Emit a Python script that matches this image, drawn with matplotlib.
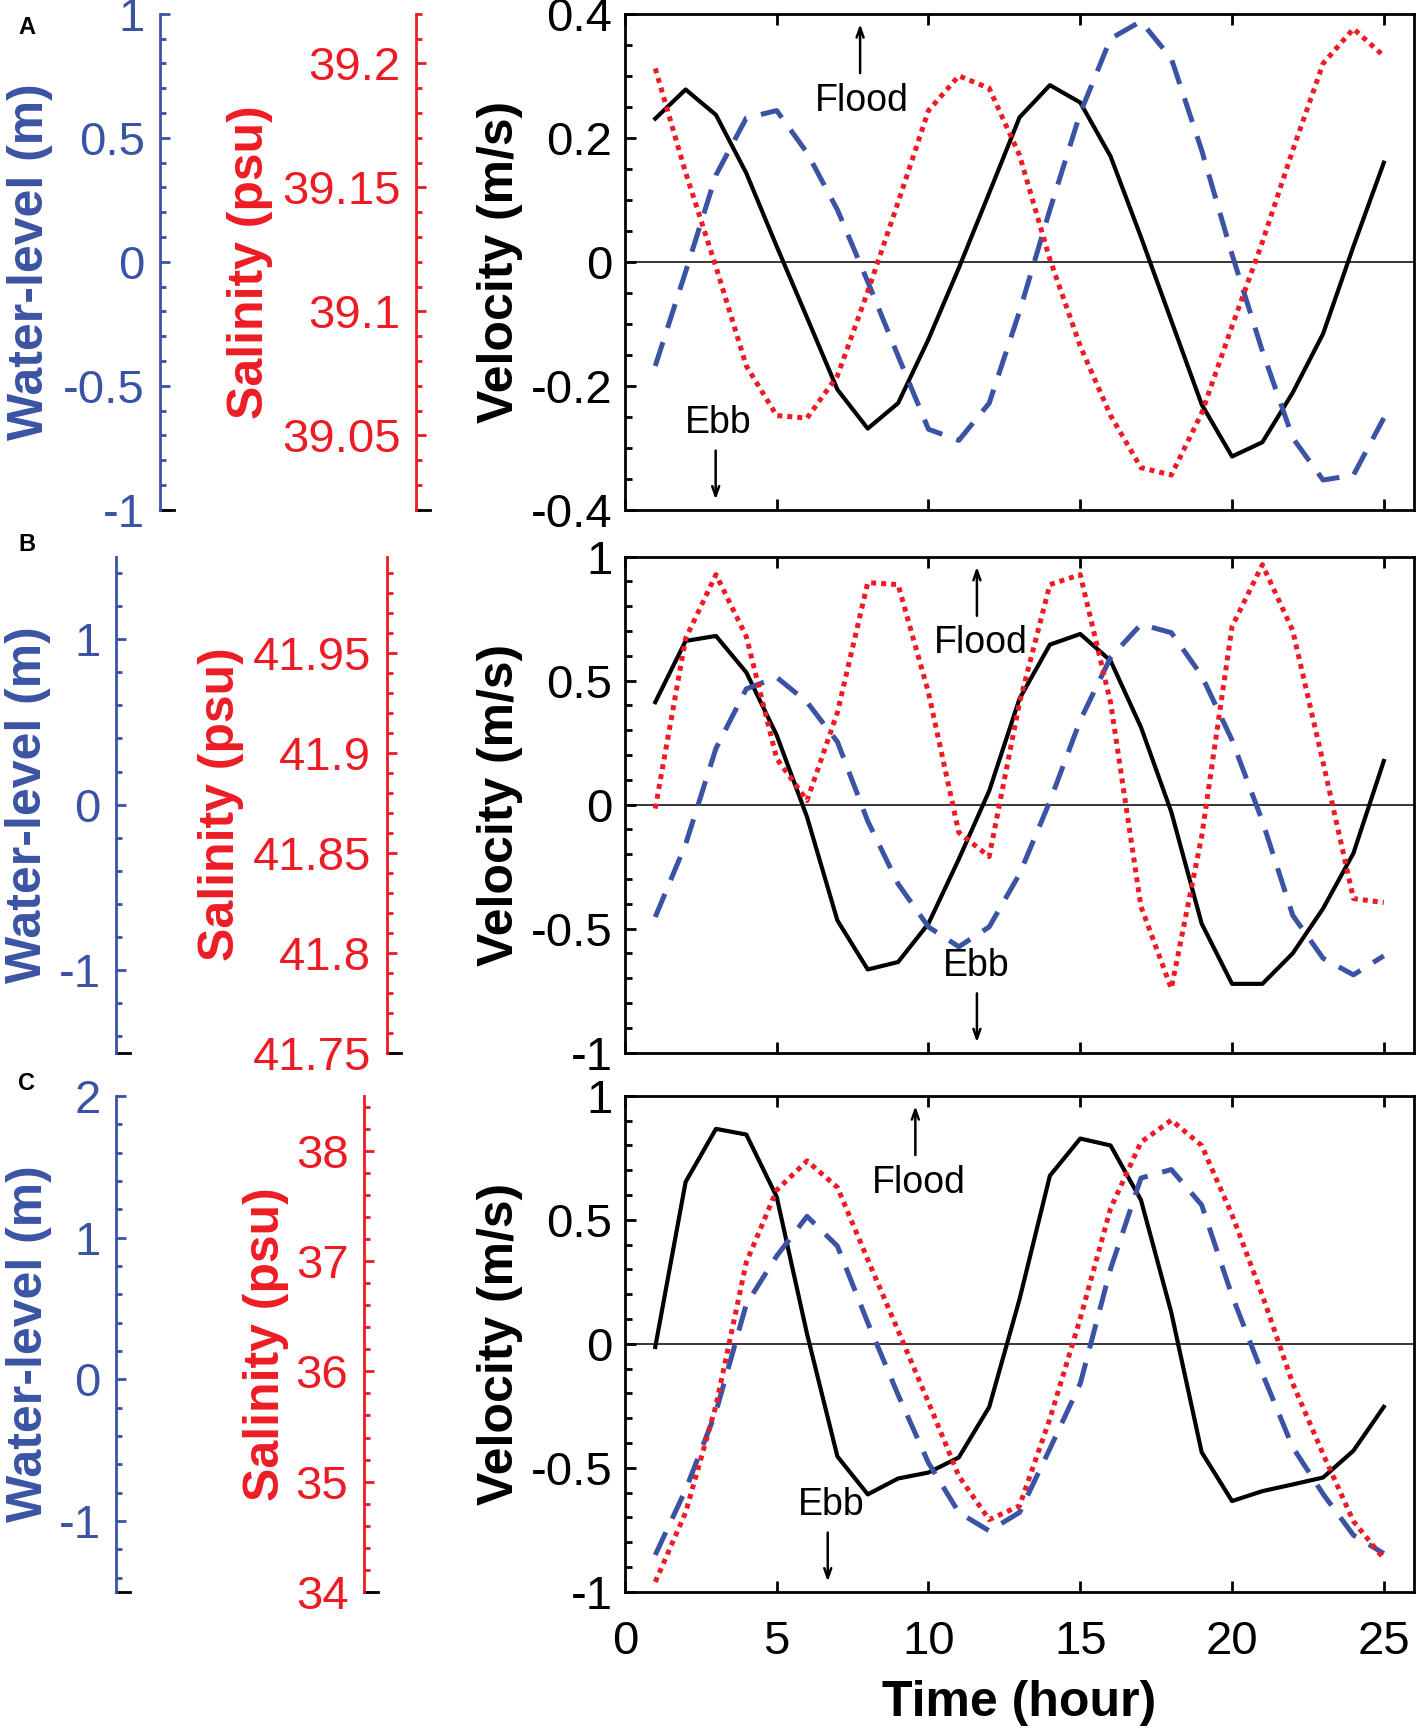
import numpy as np
import matplotlib
matplotlib.use("Agg")
import matplotlib.pyplot as plt
from matplotlib.ticker import MultipleLocator, FixedLocator

plt.rcParams['font.family'] = ['Liberation Sans', 'DejaVu Sans']

BLUE = '#3a53a4'
RED = '#ed1c24'

# hourly series
hours = np.arange(1, 26)

vel_a = [0.231, 0.278, 0.237, 0.143, 0.025, -0.090, -0.206, -0.269, -0.228, -0.125,
         -0.010, 0.111, 0.233, 0.285, 0.257, 0.170, 0.040, -0.095, -0.230, -0.314,
         -0.291, -0.211, -0.116, 0.025, 0.160]
wl_a = [-0.42, -0.04, 0.35, 0.58, 0.61, 0.44, 0.21, -0.08, -0.38, -0.675,
        -0.72, -0.57, -0.20, 0.21, 0.60, 0.90, 0.97, 0.82, 0.45, 0.03,
        -0.36, -0.71, -0.88, -0.86, -0.63]
sal_a = [39.198, 39.156, 39.118, 39.078, 39.058, 39.057, 39.074, 39.108, 39.144, 39.181,
         39.195, 39.190, 39.163, 39.121, 39.086, 39.058, 39.037, 39.034, 39.059, 39.094,
         39.128, 39.165, 39.200, 39.214, 39.203]

vel_b = [0.413, 0.660, 0.680, 0.533, 0.280, -0.050, -0.467, -0.665, -0.635, -0.480,
         -0.220, 0.055, 0.427, 0.645, 0.688, 0.580, 0.312, -0.030, -0.480, -0.723,
         -0.723, -0.600, -0.419, -0.196, 0.176]
wl_b = [-0.68, -0.24, 0.34, 0.70, 0.77, 0.62, 0.38, -0.10, -0.48, -0.74,
        -0.86, -0.74, -0.42, 0.02, 0.51, 0.89, 1.09, 1.04, 0.78, 0.39,
        -0.10, -0.67, -0.93, -1.03, -0.915]
sal_b = [41.872, 41.957, 41.989, 41.958, 41.897, 41.876, 41.920, 41.985, 41.984, 41.930,
         41.860, 41.848, 41.925, 41.984, 41.989, 41.925, 41.823, 41.782, 41.858, 41.963,
         41.994, 41.961, 41.895, 41.827, 41.825]

vel_c = [-0.013, 0.653, 0.867, 0.844, 0.593, 0.040, -0.454, -0.607, -0.543, -0.519,
         -0.458, -0.255, 0.180, 0.678, 0.828, 0.800, 0.580, 0.126, -0.437, -0.634,
         -0.594, -0.567, -0.539, -0.431, -0.254]
wl_c = [-1.24, -0.78, -0.23, 0.53, 0.87, 1.15, 0.94, 0.40, -0.11, -0.59,
        -0.94, -1.07, -0.94, -0.49, -0.03, 0.78, 1.42, 1.48, 1.23, 0.59,
        0.04, -0.48, -0.81, -1.10, -1.23]
sal_c = [34.09, 34.72, 35.69, 36.99, 37.645, 37.91, 37.67, 37.015, 36.37, 35.72,
         35.05, 34.655, 34.78, 35.57, 36.48, 37.48, 38.08, 38.28, 38.05, 37.42,
         36.69, 35.89, 35.25, 34.64, 34.30]

time_ticks = [0, 5, 10, 15, 20, 25]

panels = [
    dict(letter='A', vel=vel_a, wl=wl_a, sal=sal_a,
         vlim=(-0.4, 0.4), vticks=[-0.4, -0.2, 0, 0.2, 0.4], vminor=0.05,
         wlim=(-1, 1), wticks=[-1, -0.5, 0, 0.5, 1], wminor=0.1,
         slim=(39.02, 39.22), sticks=[39.05, 39.1, 39.15, 39.2], sminor=0.01),
    dict(letter='B', vel=vel_b, wl=wl_b, sal=sal_b,
         vlim=(-1, 1), vticks=[-1, -0.5, 0, 0.5, 1], vminor=0.1,
         wlim=(-1.5, 1.5), wticks=[-1, 0, 1], wminor=0.2,
         slim=(41.75, 41.998), sticks=[41.75, 41.8, 41.85, 41.9, 41.95], sminor=0.01),
    dict(letter='C', vel=vel_c, wl=wl_c, sal=sal_c,
         vlim=(-1, 1), vticks=[-1, -0.5, 0, 0.5, 1], vminor=0.1,
         wlim=(-1.5, 2), wticks=[-1, 0, 1, 2], wminor=0.2,
         slim=(34, 38.5), sticks=[34, 35, 36, 37, 38], sminor=0.2),
]

# layout (figure fractions / axes fractions)
bottoms = [0.706, 0.393, 0.082]
blue_pos = [-0.589, -0.645, -0.645]
red_pos = [-0.265, -0.302, -0.331]
blue_lab = [-0.725, -0.727, -0.726]
red_lab = [-0.446, -0.482, -0.425]
letter_y = [0.984, 0.686, 0.375]
# flood / ebb annotations in axes fractions: (arrow x, text x)
flood_x = [(0.298, 0.300), (0.446, 0.451), (0.368, 0.373)]
ebb_x = [(0.115, 0.118), (0.446, 0.445), (0.257, 0.261)]

TICK = 34
LAB = 36
SPINE = 2.0

fig = plt.figure(figsize=(14.17, 17.34), dpi=100)


def tick_label(v):
    return '%g' % v


def side_axis(ax, pos, color, lim, ticks, minor, label, labx):
    t = ax.twinx()
    t.set_ylim(lim)
    for s in ['top', 'bottom', 'right']:
        t.spines[s].set_visible(False)
    t.spines['left'].set_visible(True)
    t.spines['left'].set_position(('axes', pos))
    t.spines['left'].set_color(color)
    t.spines['left'].set_linewidth(SPINE)
    t.yaxis.tick_left()
    t.yaxis.set_label_position('left')
    t.yaxis.set_major_locator(FixedLocator(ticks))
    t.yaxis.set_minor_locator(MultipleLocator(minor))
    t.set_yticklabels([tick_label(v) for v in ticks])
    t.tick_params(axis='y', which='both', direction='in', colors=color,
                  labelsize=TICK, pad=11, width=SPINE)
    t.tick_params(axis='y', which='major', length=7)
    t.tick_params(axis='y', which='minor', length=4)
    t.set_ylabel(label, color=color, fontsize=LAB, fontweight='bold')
    t.yaxis.set_label_coords(labx, 0.5)
    # short black stub at the foot of the axis
    t.plot([pos, pos + 0.018], [0, 0], color='k', lw=SPINE,
           transform=t.transAxes, clip_on=False)
    return t


for i, p in enumerate(panels):
    ax = fig.add_axes([0.441, bottoms[i], 0.557, 0.286])
    ax.plot(hours, p['vel'], color='k', lw=3.0, zorder=3)
    ax.axhline(0, color='k', lw=1.1, zorder=2)
    ax.set_xlim(0, 26)
    ax.set_ylim(p['vlim'])
    ax.set_xticks(time_ticks)
    ax.set_yticks(p['vticks'])
    ax.set_yticklabels([tick_label(v) for v in p['vticks']])
    ax.yaxis.set_minor_locator(MultipleLocator(p['vminor']))
    ax.tick_params(which='both', direction='in', top=True, right=True,
                   labelsize=TICK, width=SPINE)
    ax.tick_params(axis='y', which='major', length=8, pad=9)
    ax.tick_params(axis='y', which='minor', length=5)
    ax.tick_params(axis='x', which='major', length=8, pad=20)
    for s in ax.spines.values():
        s.set_linewidth(SPINE)
    if i < 2:
        ax.set_xticklabels([])
    else:
        ax.set_xlabel('Time (hour)', fontsize=LAB, fontweight='bold', labelpad=12)
    ax.set_ylabel('Velocity (m/s)', fontsize=LAB, fontweight='bold')
    ax.yaxis.set_label_coords(-0.129, 0.5)

    tb = side_axis(ax, blue_pos[i], BLUE, p['wlim'], p['wticks'], p['wminor'],
                   'Water-level (m)', blue_lab[i])
    tb.plot(hours, p['wl'], color=BLUE, lw=3.6, dashes=(5, 3))

    tr = side_axis(ax, red_pos[i], RED, p['slim'], p['sticks'], p['sminor'],
                   'Salinity (psu)', red_lab[i])
    tr.plot(hours, p['sal'], color=RED, lw=3.6, dashes=(1, 1),
            dash_capstyle='butt')

    # flood / ebb markers
    fa, ft = flood_x[i]
    ax.annotate('', xy=(fa, 0.985), xytext=(fa, 0.875), xycoords='axes fraction',
                arrowprops=dict(arrowstyle='->,head_length=0.7,head_width=0.25',
                                color='k', lw=1.8))
    ax.text(ft, 0.825, 'Flood', transform=ax.transAxes, fontsize=27,
            ha='center', va='center')
    ea, et = ebb_x[i]
    ax.annotate('', xy=(ea, 0.015), xytext=(ea, 0.125), xycoords='axes fraction',
                arrowprops=dict(arrowstyle='->,head_length=0.7,head_width=0.25',
                                color='k', lw=1.8))
    ax.text(et, 0.175, 'Ebb', transform=ax.transAxes, fontsize=27,
            ha='center', va='center')

    fig.text(0.019, letter_y[i], p['letter'], fontsize=17, fontweight='bold',
             ha='center', va='center')

fig.savefig('out.png', dpi=100)
